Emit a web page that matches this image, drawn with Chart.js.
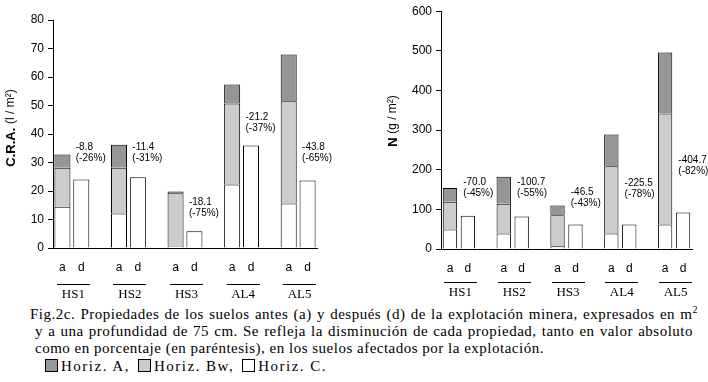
<!DOCTYPE html>
<html>
<head>
<meta charset="UTF-8">
<title>Fig.2c</title>
<script src="https://cdn.jsdelivr.net/npm/chart.js@4.4.0/dist/chart.umd.min.js"></script>
<style>
body { margin:0; background:#fff; }
#wrap { position:relative; width:708px; height:382px; overflow:hidden; font-family:'Liberation Serif','Times New Roman',serif; color:#000; }
canvas { position:absolute; top:0; }
.cap { position:absolute; font-size:15px; line-height:17px; white-space:nowrap; letter-spacing:0.5px; }
.just { text-align:justify; text-align-last:justify; white-space:normal; }
.leg { letter-spacing:1.5px; }
.sq { display:inline-block; width:11px; height:11px; border:1px solid #000; vertical-align:-1px; margin-right:3px; }
</style>
</head>
<body>
<div id="wrap">
<canvas id="cra" width="354" height="300" style="left:0"></canvas>
<canvas id="nit" width="354" height="300" style="left:354px"></canvas>
<div class="cap just" style="left:30px;top:306px;width:668px">Fig.2c. Propiedades de los suelos antes (a) y después (d) de la explotación minera, expresados en m<sup style="font-size:10px;line-height:0">2</sup></div>
<div class="cap just" style="left:35px;top:323px;width:658px">y a una profundidad de 75 cm. Se refleja la disminución de cada propiedad, tanto en valor absoluto</div>
<div class="cap" style="left:35px;top:340px">como en porcentaje (en paréntesis), en los suelos afectados por la explotación.</div>
<div class="cap leg" style="left:45px;top:358px"><span class="sq" style="background:#999"></span>Horiz. A,<span style="display:inline-block;width:8px"></span><span class="sq" style="background:#ccc"></span>Horiz. Bw,<span style="display:inline-block;width:8px"></span><span class="sq" style="background:#fff"></span>Horiz. C.</div>
</div>
<script>
// suelos
var sites = ['HS1', 'HS2', 'HS3', 'AL4', 'AL5'];

// C.R.A. (l/m2) antes: horizontes C, Bw, A ; despues: total
var craC  = [14.5, 12.1, 0.8, 22.3, 15.6];
var craBw = [13.7, 16.1, 18.4, 28.4, 35.9];
var craA  = [4.6, 8.0, 0.6, 6.7, 16.4];
var craD  = [24.0, 24.8, 5.9, 36.0, 23.7];
var craNotes = [['-8.8', '(-26%)'], ['-11.4', '(-31%)'], ['-18.1', '(-75%)'], ['-21.2', '(-37%)'], ['-43.8', '(-65%)']];

// N (g/m2)
var nC  = [49, 39, 7, 39, 62];
var nBw = [70, 75, 78, 170, 280];
var nA  = [35, 68, 25, 80, 154];
var nD  = [84, 82, 62, 62, 92];
var nNotes = [['-70.0', '(-45%)'], ['-100.7', '(-55%)'], ['-46.5', '(-43%)'], ['-225.5', '(-78%)'], ['-404.7', '(-82%)']];

var craTicks = [0, 10, 20, 30, 40, 50, 60, 70, 80];
var nTicks = [0, 100, 200, 300, 400, 500, 600];

// a, d y un hueco entre grupos
function buildLabels() {
  var l = [];
  for (var i = 0; i < sites.length; i++) {
    l.push('a', 'd');
    if (i < sites.length - 1) l.push('');
  }
  return l;
}
function spread(vals, dVals) {
  var out = [];
  for (var i = 0; i < vals.length; i++) {
    out.push(vals[i], dVals ? dVals[i] : null);
    if (i < vals.length - 1) out.push(null);
  }
  return out;
}

var extras = {
  id: 'extras',
  afterDraw: function(chart) {
    var o = chart.options.plugins.extras;
    var ctx = chart.ctx;
    var xs = chart.scales.x, ys = chart.scales.y;
    ctx.save();
    ctx.fillStyle = '#000';
    ctx.strokeStyle = '#000';
    // titulo eje y (negrita + normal)
    ctx.translate(o.titleX, o.titleY);
    ctx.rotate(-Math.PI / 2);
    ctx.textBaseline = 'middle';
    ctx.font = 'bold 13px "Liberation Sans", Arial';
    var w1 = ctx.measureText(o.titleBold).width;
    ctx.font = '12px "Liberation Sans", Arial';
    var w2 = ctx.measureText(o.titleRest).width;
    var sx = -(w1 + w2) / 2;
    ctx.font = 'bold 13px "Liberation Sans", Arial';
    ctx.textAlign = 'left';
    ctx.fillText(o.titleBold, sx, 0);
    ctx.font = '12px "Liberation Sans", Arial';
    ctx.fillText(o.titleRest, sx + w1, 0);
    ctx.setTransform(1, 0, 0, 1, 0, 0);
    // nombres de suelos con raya
    var meta = chart.getDatasetMeta(0);
    ctx.lineWidth = 1;
    for (var i = 0; i < sites.length; i++) {
      var ca = xs.getPixelForValue(3 * i), cd = xs.getPixelForValue(3 * i + 1);
      var c = (ca + cd) / 2 + 1.5;
      ctx.beginPath();
      ctx.moveTo(Math.round(c - 16.5), o.lineY + 0.5);
      ctx.lineTo(Math.round(c + 16.5), o.lineY + 0.5);
      ctx.stroke();
      ctx.font = '13px "Liberation Serif", "Times New Roman"';
      ctx.textAlign = 'center';
      ctx.textBaseline = 'middle';
      ctx.fillText(sites[i], c, o.labelY);
      // disminucion
      var bar = meta.data[3 * i + 1];
      var tx = bar.x - bar.width / 2 + 2.5;
      var ty = ys.getPixelForValue(o.noteAt[i]);
      ctx.font = '10px "Liberation Sans", Arial';
      ctx.textAlign = 'left';
      ctx.fillText(o.notes[i][0], tx, ty);
      ctx.fillText(o.notes[i][1], tx, ty + 11);
    }
    ctx.restore();
  }
};

function makeChart(id, C, Bw, A, D, ticks, cfg) {
  var ctx = document.getElementById(id).getContext('2d');
  return new Chart(ctx, {
    type: 'bar',
    data: {
      labels: buildLabels(),
      datasets: [
        { label: 'Horiz. C.', data: spread(C, D), backgroundColor: '#ffffff' },
        { label: 'Horiz. Bw', data: spread(Bw), backgroundColor: '#cccccc' },
        { label: 'Horiz. A', data: spread(A), backgroundColor: '#969696' }
      ]
    },
    plugins: [extras],
    options: {
      responsive: false,
      animation: false,
      devicePixelRatio: 1,
      datasets: { bar: { borderColor: '#000', borderWidth: 1, borderSkipped: 'start',
        barPercentage: cfg.barPct, categoryPercentage: 1 } },
      layout: { padding: { left: 0, right: cfg.padRight, top: cfg.padTop, bottom: 0 } },
      scales: {
        x: {
          stacked: true,
          grid: { display: false },
          border: { display: true, color: '#000', width: 1 },
          ticks: { color: '#000', font: { family: '"Liberation Sans", Arial', size: 12 }, padding: 4, autoSkip: false, maxRotation: 0 },
          afterFit: function(s) { s.height = cfg.xHeight; }
        },
        y: {
          stacked: true,
          min: ticks[0],
          max: ticks[ticks.length - 1],
          grid: { display: true, drawOnChartArea: false, drawTicks: true, tickLength: 5, color: '#000' },
          border: { display: true, color: '#000', width: 1 },
          ticks: { stepSize: ticks[1] - ticks[0], color: '#000', padding: 4,
            font: { family: '"Liberation Sans", Arial', size: 12 } },
          afterFit: function(s) { s.width = cfg.yWidth; }
        }
      },
      plugins: {
        legend: { display: false },
        tooltip: { enabled: false },
        extras: cfg.extras
      }
    }
  });
}

makeChart('cra', craC, craBw, craA, craD, craTicks, {
  barPct: 0.85, padRight: 37, padTop: 20, xHeight: 52, yWidth: 53,
  extras: { titleX: 11, titleY: 128, titleBold: 'C.R.A. ', titleRest: '(l / m²)',
    lineY: 284, labelY: 295, notes: craNotes, noteAt: [35.3, 35.3, 16, 46, 35.3] }
});
makeChart('nit', nC, nBw, nA, nD, nTicks, {
  barPct: 0.8, padRight: 16, padTop: 9, xHeight: 51, yWidth: 87,
  extras: { titleX: 39, titleY: 121, titleBold: 'N ', titleRest: '(g / m²)',
    lineY: 282, labelY: 293, notes: nNotes, noteAt: [168, 168, 142, 167, 224.5] }
});
</script>
</body>
</html>
